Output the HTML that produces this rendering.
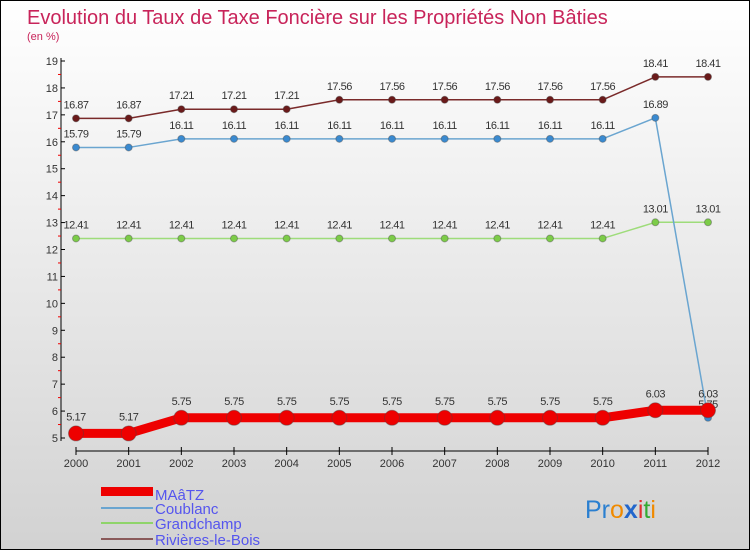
<!DOCTYPE html>
<html><head><meta charset="utf-8"><style>
body{margin:0}
#c{width:750px;height:550px;position:relative;box-sizing:border-box;border:1px solid #000;background:linear-gradient(#fff,#f2f2f2 30%,#d2d2d2);font-family:"Liberation Sans",sans-serif;overflow:hidden}
svg text{font-family:"Liberation Sans",sans-serif}
</style></head><body>
<div id="c">
<svg id="s" width="750" height="550">
<text x="26" y="23" font-size="20" fill="#c8245a">Evolution du Taux de Taxe Foncière sur les Propriétés Non Bâties</text>
<text x="26" y="39" font-size="11" fill="#c8245a">(en %)</text>
<g id="axes"></g><g id="series"></g>
<g>
<rect x="100" y="486" width="52" height="9" fill="#e00"/>
<text x="154" y="499" font-size="15" fill="#5555ee">MAâTZ</text>
<line x1="100" y1="507" x2="152" y2="507" stroke="#6aa5d0" stroke-width="2"/>
<text x="154" y="513" font-size="15" fill="#5555ee">Coublanc</text>
<line x1="100" y1="522" x2="152" y2="522" stroke="#8fd46a" stroke-width="2"/>
<text x="154" y="528" font-size="15" fill="#5555ee">Grandchamp</text>
<line x1="100" y1="538" x2="152" y2="538" stroke="#8a5a5a" stroke-width="2"/>
<text x="154" y="544" font-size="15" fill="#5555ee">Rivières-le-Bois</text>
</g>
<text x="584" y="517" font-size="25"><tspan fill="#2a7fd0">Pr</tspan><tspan fill="#f08a00">o</tspan><tspan fill="#2266cc" font-weight="bold">x</tspan><tspan fill="#e03030">i</tspan><tspan fill="#33aa33">t</tspan><tspan fill="#f08a00">i</tspan></text>
</svg></div>
<script>
const years=[2000,2001,2002,2003,2004,2005,2006,2007,2008,2009,2010,2011,2012];
const maatz=[5.17,5.17,5.75,5.75,5.75,5.75,5.75,5.75,5.75,5.75,5.75,6.03,6.03];
const coublanc=[15.79,15.79,16.11,16.11,16.11,16.11,16.11,16.11,16.11,16.11,16.11,16.89,5.75];
const grandchamp=[12.41,12.41,12.41,12.41,12.41,12.41,12.41,12.41,12.41,12.41,12.41,13.01,13.01];
const rivieres=[16.87,16.87,17.21,17.21,17.21,17.56,17.56,17.56,17.56,17.56,17.56,18.41,18.41];
const yTicks=[5,6,7,8,9,10,11,12,13,14,15,16,17,18,19];
const NS="http://www.w3.org/2000/svg";
const xs=i=>75+i*(707-75)/(years.length-1);
const ys=v=>437-(v-5)*(437-60)/14;
function mk(t,a,p){const e=document.createElementNS(NS,t);for(const k in a)e.setAttribute(k,a[k]);p.appendChild(e);return e;}
const ax=document.getElementById('axes');
let l=mk('line',{x1:60,y1:57,x2:60,y2:440,stroke:'#000'},ax);


l=mk('line',{x1:75,y1:450,x2:707,y2:450,stroke:'#000'},ax);


yTicks.forEach(v=>{
 mk('line',{x1:60,y1:ys(v),x2:64,y2:ys(v),stroke:'#000'},ax);
 if(v<19)mk('line',{x1:57,y1:ys(v+0.5),x2:60,y2:ys(v+0.5),stroke:'#e00'},ax);
 const t=mk('text',{x:57,y:ys(v)+4,'font-size':11,fill:'#333','text-anchor':'end'},ax);t.textContent=v;
 
 
});
years.forEach((y,i)=>{
 mk('line',{x1:xs(i),y1:446,x2:xs(i),y2:454,stroke:'#000'},ax);
 const t=mk('text',{x:xs(i),y:466,'font-size':11,fill:'#333','text-anchor':'middle'},ax);t.textContent=y;
 
 
});
const sg=document.getElementById('series');
function draw(vals,name,color,w,r,dot,dy){
 const g=mk('g',{},sg);
 
 
 const p=mk('polyline',{points:vals.map((v,i)=>xs(i)+','+ys(v)).join(' '),fill:'none',stroke:color,'stroke-width':w,'stroke-linejoin':'round'},g);
 
 
 vals.forEach((v,i)=>{
  const c=mk('circle',{cx:xs(i),cy:ys(v),r:r,fill:dot,stroke:'#444','stroke-opacity':0.4},g);
  
  
  const t=mk('text',{x:xs(i),y:ys(v)-dy,'font-size':11,fill:'#333','text-anchor':'middle','letter-spacing':'-0.5'},g);t.textContent=v;
  
  
 });
}
draw(rivieres,'rivieres','#7a2a2a',1.5,3.5,'#6a1a1a',10);
draw(grandchamp,'grandchamp','#9edc7a',1.5,3.5,'#7ccc48',10);
draw(coublanc,'coublanc','#6aa5d0',1.5,3.5,'#3a8ad0',10);
draw(maatz,'maatz','#ee0000',9,7.5,'#ee0000',13);
</script>
</body></html>
